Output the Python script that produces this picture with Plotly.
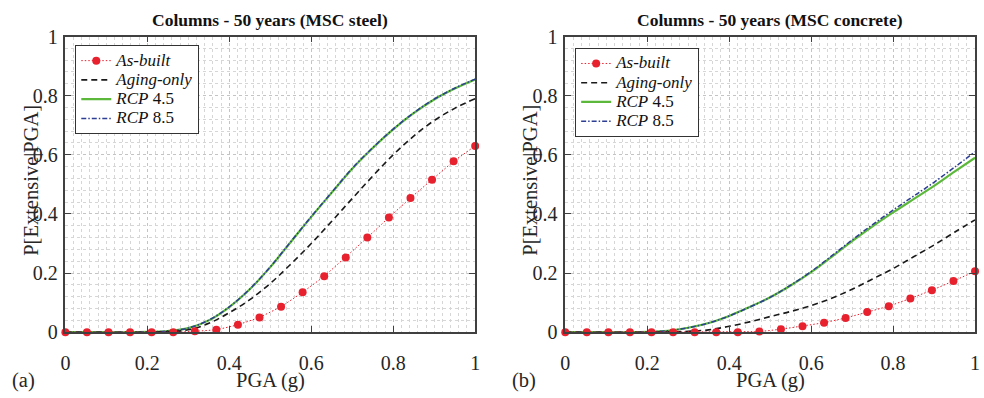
import plotly.graph_objects as go

# ---------------- data ----------------
pga_pts = [k / 19 for k in range(20)]  # marker positions of As-built
pga = [0, 0.05, 0.1, 0.15, 0.2, 0.25, 0.3, 0.35, 0.4, 0.45, 0.5,
       0.55, 0.6, 0.65, 0.7, 0.75, 0.8, 0.85, 0.9, 0.95, 1.0]

# (a) MSC steel
steel_asbuilt = [0, 0, 0, 0, 0, 0, 0.003, 0.008, 0.025, 0.05, 0.086, 0.135,
                 0.189, 0.253, 0.32, 0.388, 0.454, 0.516, 0.578, 0.63]
steel_aging = [0, 0, 0, 0, 0, 0.002, 0.008, 0.03, 0.066, 0.11, 0.165, 0.23,
               0.3, 0.375, 0.452, 0.528, 0.6, 0.663, 0.716, 0.757, 0.79]
steel_rcp45 = [0, 0, 0, 0, 0.001, 0.004, 0.014, 0.04, 0.085, 0.145, 0.22, 0.305,
               0.39, 0.472, 0.553, 0.623, 0.686, 0.741, 0.787, 0.824, 0.855]
steel_rcp85 = [0, 0, 0, 0, 0.001, 0.004, 0.014, 0.041, 0.086, 0.146, 0.221, 0.306,
               0.391, 0.473, 0.554, 0.624, 0.687, 0.742, 0.788, 0.825, 0.856]

# (b) MSC concrete
conc_asbuilt = [0, 0, 0, 0, 0, 0, 0, 0, 0, 0.002, 0.01, 0.02, 0.032, 0.048,
                0.068, 0.088, 0.114, 0.142, 0.173, 0.206]
conc_aging = [0, 0, 0, 0, 0, 0.001, 0.003, 0.008, 0.02, 0.035, 0.053, 0.07,
              0.09, 0.115, 0.145, 0.18, 0.215, 0.255, 0.295, 0.338, 0.38]
conc_rcp45 = [0, 0, 0, 0, 0.001, 0.005, 0.015, 0.031, 0.055, 0.085, 0.118, 0.158,
              0.203, 0.255, 0.308, 0.358, 0.405, 0.45, 0.495, 0.543, 0.59]
conc_rcp85 = [0, 0, 0, 0, 0.001, 0.005, 0.015, 0.031, 0.055, 0.085, 0.118, 0.159,
              0.205, 0.258, 0.312, 0.364, 0.413, 0.46, 0.507, 0.558, 0.61]

titles = ["Columns - 50 years (MSC steel)", "Columns - 50 years (MSC concrete)"]
panel_labels = ["(a)", "(b)"]
x_title = "PGA (g)"
y_title = "P[Extensive|PGA]"
names = ["<i>As-built</i>", "<i>Aging-only</i>", "<i>RCP</i> 4.5", "<i>RCP</i> 8.5"]

# ---------------- layout geometry ----------------
W, H = 984, 398
FONT = "Liberation Serif, Times New Roman, serif"
TXT = "#262626"
RED, BLACK, GREEN, BLUE = "#e8212f", "#1a1a1a", "#5cb83b", "#2d3e94"

px_left = [61, 566]
px_right = [475, 980]
px_top, px_bot = 27, 340

fig = go.Figure()

panels = [
    (steel_asbuilt, steel_aging, steel_rcp45, steel_rcp85),
    (conc_asbuilt, conc_aging, conc_rcp45, conc_rcp85),
]

def leg(t):
    return '<span style="font-size:17px">%s</span>' % t

for i, (ab, ag, r45, r85) in enumerate(panels):
    xa = "x" if i == 0 else "x2"
    ya = "y" if i == 0 else "y2"
    lg = "legend" if i == 0 else "legend2"
    fig.add_trace(go.Scatter(x=pga, y=r45, mode="lines", name=leg(names[2]),
                             line=dict(color=GREEN, width=2.2, shape="spline"),
                             xaxis=xa, yaxis=ya, legend=lg, legendrank=3, cliponaxis=False))
    fig.add_trace(go.Scatter(x=pga, y=r85, mode="lines", name=leg(names[3]),
                             line=dict(color=BLUE, width=1.5, dash="5px,2px,1.5px,2px", shape="spline"),
                             xaxis=xa, yaxis=ya, legend=lg, legendrank=4, cliponaxis=False))
    fig.add_trace(go.Scatter(x=pga, y=ag, mode="lines", name=leg(names[1]),
                             line=dict(color=BLACK, width=1.6, dash="6px,4px", shape="spline"),
                             xaxis=xa, yaxis=ya, legend=lg, legendrank=2, cliponaxis=False))
    fig.add_trace(go.Scatter(x=pga_pts, y=ab, mode="lines+markers", name=leg(names[0]),
                             line=dict(color=RED, width=1, dash="1.5px,2px"),
                             marker=dict(color=RED, size=8, symbol="circle"),
                             xaxis=xa, yaxis=ya, legend=lg, legendrank=1, cliponaxis=False))

def axis_common():
    return dict(
        range=[0, 1], dtick=0.2, tick0=0,
        showline=True, linecolor="#404040", linewidth=1.5, mirror="ticks",
        ticks="inside", ticklen=6, tickwidth=1, tickcolor="#404040",
        showgrid=True, gridcolor="#c4c4c4", griddash="dot", gridwidth=1,
        zeroline=False,
        tickfont=dict(family=FONT, size=20, color=TXT),
        fixedrange=True,
    )

for i in range(2):
    xd = [px_left[i] / W, px_right[i] / W]
    yd = [1 - px_bot / H, 1 - px_top / H]
    xax = axis_common()
    xax.update(domain=xd, anchor="y" if i == 0 else "y2", ticklabelstandoff=12,
               minor=dict(dtick=0.02, showgrid=True, gridcolor="#d6d6d6", griddash="dot", gridwidth=1, ticks=""))
    yax = axis_common()
    yax.update(domain=yd, anchor="x" if i == 0 else "x2",
               minor=dict(dtick=0.04, showgrid=True, gridcolor="#d6d6d6", griddash="dot", gridwidth=1, ticks=""),
               ticklabelstandoff=2)
    fig.layout["xaxis" if i == 0 else "xaxis2"] = xax
    fig.layout["yaxis" if i == 0 else "yaxis2"] = yax

annotations = []
for i in range(2):
    cx = (px_left[i] + px_right[i]) / 2 / W
    annotations.append(dict(text="<b>%s</b>" % titles[i], x=cx, y=1 - 10 / H, xref="paper", yref="paper",
                            xanchor="center", yanchor="middle", showarrow=False,
                            font=dict(family=FONT, size=17.5, color="#111")))
    annotations.append(dict(text=x_title, x=cx, y=1 - 391 / H, xref="paper", yref="paper",
                            xanchor="center", yanchor="middle", showarrow=False,
                            font=dict(family=FONT, size=20.5, color=TXT)))
    annotations.append(dict(text=y_title, x=(px_left[i] - 35) / W, y=1 - 179 / H, xref="paper", yref="paper",
                            xanchor="center", yanchor="middle", showarrow=False, textangle=-90,
                            font=dict(family=FONT, size=20.5, color=TXT)))
    annotations.append(dict(text=panel_labels[i], x=(px_left[i] - 42) / W, y=1 - 391 / H, xref="paper", yref="paper",
                            xanchor="center", yanchor="middle", showarrow=False,
                            font=dict(family=FONT, size=20.5, color=TXT)))

legend_style = dict(
    xanchor="left", yanchor="top", xref="paper", yref="paper",
    bgcolor="white", bordercolor="#333", borderwidth=1,
    font=dict(family=FONT, size=12.5, color="#111"),
    tracegroupgap=0, itemwidth=30,
)

fig.update_layout(
    width=W, height=H,
    margin=dict(l=0, r=0, t=0, b=0),
    paper_bgcolor="white", plot_bgcolor="white",
    showlegend=True,
    legend=dict(legend_style, x=71 / W, y=1 - 36 / H),
    legend2=dict(legend_style, x=576 / W, y=1 - 39 / H),
    annotations=annotations,
)

fig.write_html("out.html")
